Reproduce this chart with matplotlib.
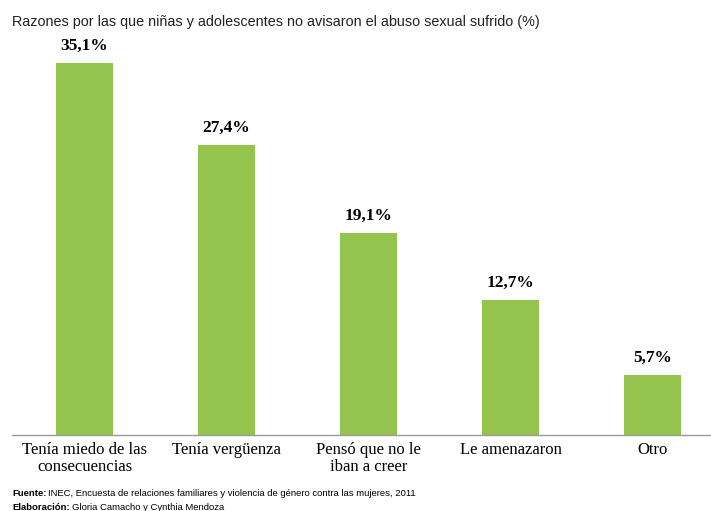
import matplotlib.pyplot as plt
from matplotlib.transforms import offset_copy

categorias = ["Tenía miedo de las\nconsecuencias", "Tenía vergüenza",
              "Pensó que no le\niban a creer", "Le amenazaron", "Otro"]
porcentajes = [35.1, 27.4, 19.1, 12.7, 5.7]
etiquetas = ["35,1%", "27,4%", "19,1%", "12,7%", "5,7%"]

titulo = "Razones por las que niñas y adolescentes no avisaron el abuso sexual sufrido (%)"
fuente = "INEC, Encuesta de relaciones familiares y violencia de género contra las mujeres, 2011"
elaboracion = "Gloria Camacho y Cynthia Mendoza"

sans = ['Liberation Sans', 'DejaVu Sans']
serif = ['Liberation Serif', 'DejaVu Serif']

fig = plt.figure(figsize=(7.11, 5.11), dpi=100)
ax = fig.add_axes([12 / 711, 76 / 511, 699 / 711, 395 / 511])

x = range(len(categorias))
ax.bar(x, porcentajes, width=0.40, color='#94c34e')
for i, v in enumerate(porcentajes):
    ax.text(i, v + 0.85, etiquetas[i], ha='center', va='bottom',
            family=serif, fontweight='bold', fontsize=12.5)

ax.set_xlim(-0.51, 4.41)
ax.set_ylim(0, 37.26)
ax.set_xticks(list(x))
ax.set_xticklabels(categorias, family=serif, fontsize=12, linespacing=1.1)
ax.tick_params(axis='x', length=0, pad=5)
ax.set_yticks([])
for s in ['top', 'right', 'left']:
    ax.spines[s].set_visible(False)
ax.spines['bottom'].set_color('#999999')
ax.spines['bottom'].set_linewidth(1.0)

fig.text(12 / 711, 1 - 22 / 511, titulo, family=sans, fontsize=10.4,
         va='center', ha='left', color='#222222')

# pie de fuente: etiqueta en negrita seguida del texto normal
fig.canvas.draw()
renderer = fig.canvas.get_renderer()
for y_px, rotulo, texto in [(493, "Fuente:", fuente), (507, "Elaboración:", elaboracion)]:
    t1 = fig.text(12 / 711, 1 - y_px / 511, rotulo, family=sans, fontsize=6.8,
                  fontweight='bold', va='center', ha='left')
    w = t1.get_window_extent(renderer).width
    tr = offset_copy(fig.transFigure, fig=fig, x=(w + 2) * 72 / fig.dpi, y=0, units='points')
    fig.text(12 / 711, 1 - y_px / 511, texto, family=sans, fontsize=6.8,
             va='center', ha='left', transform=tr)

fig.savefig("out.png", dpi=100)
